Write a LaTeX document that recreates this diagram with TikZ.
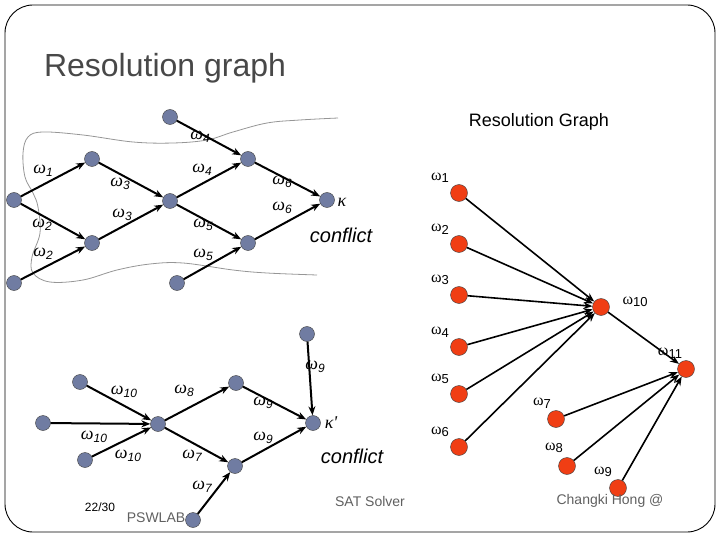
\documentclass[tikz,border=0pt]{standalone}
\usepackage{fontspec}
\setmainfont{Liberation Sans}
\newfontfamily\symfont{Liberation Serif}
\usetikzlibrary{arrows.meta}

\definecolor{nodegray}{RGB}{112,124,162}
\definecolor{nodered}{RGB}{240,62,20}
\definecolor{titlegray}{RGB}{72,72,72}
\definecolor{footgray}{RGB}{96,96,96}
\definecolor{cutgray}{RGB}{150,150,150}

% omega labels of the conflict graphs and of the resolution graph
\newcommand{\omc}[1]{{\symfont\itshape\fontsize{18}{20}\selectfont ω}{\fontsize{12}{14}\selectfont\itshape\raisebox{-3pt}{#1}}}
\newcommand{\omr}[1]{{\symfont\fontsize{16}{18}\selectfont ω}{\fontsize{13}{15}\selectfont\raisebox{-2.5pt}{#1}}}

\tikzset{
  gnode/.style={circle,draw=black!75,fill=nodegray,minimum size=15pt,inner sep=0pt},
  rnode/.style={circle,draw=black!75,fill=nodered,minimum size=17pt,inner sep=0pt},
  edge/.style={line width=2pt,-{Stealth[length=9pt,width=7pt]}},
  redge/.style={line width=1.6pt,-{Stealth[length=9pt,width=7pt]}},
  lab/.style={inner sep=0pt},
  foot/.style={font=\fontsize{14}{16}\selectfont,text=footgray,inner sep=0pt}
}

\begin{document}
\begin{tikzpicture}[x=1pt,y=-1pt]
	\useasboundingbox (0,0) rectangle (720,540);
	% slide frame and titles
	\draw[line width=0.9pt,rounded corners=28pt] (5,5) rectangle (715,532);
	\node[font=\fontsize{32}{36}\selectfont,text=titlegray,inner sep=0pt] (title) at (165,68) {Resolution graph};
	\node[font=\fontsize{18}{22}\selectfont,inner sep=0pt] (rgtitle) at (539,122) {Resolution Graph};

	% cut line
	\draw[cutgray,line width=0.8pt] plot[smooth,tension=0.6] coordinates {(338,118) (300,120) (267,123) (233,132) (207,140) (173,143) (133,142) (83,135) (43,132) (28,137) (23,153) (25,177) (33,193) (38,207) (40,233) (32,257) (33,273) (50,282) (83,280) (117,270) (150,264) (183,263) (233,270) (267,273) (317,275)};

	% first conflict graph
	\node[gnode] (a) at (14,200) {};
	\node[gnode] (b) at (92,159) {};
	\node[gnode] (c) at (92,243) {};
	\node[gnode] (bl) at (14,283) {};
	\node[gnode] (d) at (170,201) {};
	\node[gnode] (e) at (170,117) {};
	\node[gnode] (f) at (248,159) {};
	\node[gnode] (g) at (248,243) {};
	\node[gnode] (bg) at (177,283) {};
	\node[gnode] (k) at (327,200) {};
	\draw[edge] (a) -- (b);
	\draw[edge] (a) -- (c);
	\draw[edge] (bl) -- (c);
	\draw[edge] (b) -- (d);
	\draw[edge] (c) -- (d);
	\draw[edge] (d) -- (f);
	\draw[edge] (e) -- (f);
	\draw[edge] (d) -- (g);
	\draw[edge] (bg) -- (g);
	\draw[edge] (f) -- (k);
	\draw[edge] (g) -- (k);
	\node[lab] (lab) at (43,171) {\omc{1}};
	\node[lab] (lbd) at (120,184) {\omc{3}};
	\node[lab] (lac) at (42,225) {\omc{2}};
	\node[lab] (lcd) at (122,215) {\omc{3}};
	\node[lab] (lblc) at (43,254) {\omc{2}};
	\node[lab] (lef) at (200,137) {\omc{4}};
	\node[lab] (ldf) at (202,170) {\omc{4}};
	\node[lab] (ldg) at (203,225) {\omc{5}};
	\node[lab] (lbgg) at (203,255) {\omc{5}};
	\node[lab] (lfk) at (282,182) {\omc{6}};
	\node[lab] (lgk) at (282,208) {\omc{6}};
	\node[lab,font=\symfont\itshape\fontsize{18}{20}\selectfont] (kappa) at (342,202) {κ};
	\node[font=\fontsize{20}{24}\selectfont\itshape,inner sep=0pt] (conf1) at (341,235) {conflict};

	% second conflict graph
	\node[gnode] (h1) at (80,382) {};
	\node[gnode] (h2) at (43,423) {};
	\node[gnode] (h3) at (85,460) {};
	\node[gnode] (m) at (158,424) {};
	\node[gnode] (n) at (236,383) {};
	\node[gnode] (p) at (235,466) {};
	\node[gnode] (q) at (307,334) {};
	\node[gnode] (kk) at (313,423) {};
	\node[gnode] (r) at (193,520) {};
	\draw[edge] (h1) -- (m);
	\draw[edge] (h2) -- (m);
	\draw[edge] (h3) -- (m);
	\draw[edge] (m) -- (n);
	\draw[edge] (m) -- (p);
	\draw[edge] (r) -- (p);
	\draw[edge] (n) -- (kk);
	\draw[edge] (p) -- (kk);
	\draw[edge] (q) -- (kk);
	\node[lab] (lh1) at (124,392) {\omc{10}};
	\node[lab] (lh2) at (94,437) {\omc{10}};
	\node[lab] (lh3) at (128,456) {\omc{10}};
	\node[lab] (lmn) at (184,391) {\omc{8}};
	\node[lab] (lnk) at (263,403) {\omc{9}};
	\node[lab] (lqk) at (315,367) {\omc{9}};
	\node[lab] (lpk) at (263,438) {\omc{9}};
	\node[lab] (lmp) at (192,456) {\omc{7}};
	\node[lab] (lrp) at (202,487) {\omc{7}};
	\node[lab,font=\symfont\itshape\fontsize{18}{20}\selectfont] (kappa2) at (331,423) {κ'};
	\node[font=\fontsize{20}{24}\selectfont\itshape,inner sep=0pt] (conf2) at (352,456) {conflict};

	% resolution graph
	\node[rnode] (w10) at (601,307) {};
	\node[rnode] (w11) at (686,369) {};
	\foreach \i/\yy in {1/193,2/244,3/295,4/347,5/394,6/447}{
		\node[rnode] (w\i) at (459,\yy) {};
		\node[lab] (lw\i) at (440,\yy-15) {\omr{\i}};
		\draw[redge] (w\i) -- (w10);
	}
	\node[rnode] (w7) at (556,419) {};
	\node[rnode] (w8) at (567,466) {};
	\node[rnode] (w9) at (618,488) {};
	\node[lab] (lw10) at (635,302) {\omr{10}};
	\node[lab] (lw11) at (670,353) {\omr{11}};
	\node[lab] (lw7) at (542,403) {\omr{7}};
	\node[lab] (lw8) at (554,448) {\omr{8}};
	\node[lab] (lw9) at (603,472) {\omr{9}};
	\draw[redge] (w10) -- (w11);
	\draw[redge] (w7) -- (w11);
	\draw[redge] (w8) -- (w11);
	\draw[redge] (w9) -- (w11);

	% footer
	\node[font=\fontsize{12}{14}\selectfont,inner sep=0pt] (page) at (100,507) {22/30};
	\node[foot] (pswlab) at (156,518) {PSWLAB};
	\node[foot] (sat) at (370,501) {SAT Solver};
	\node[foot] (author) at (610,501) {Changki Hong @};
\end{tikzpicture}
\end{document}
